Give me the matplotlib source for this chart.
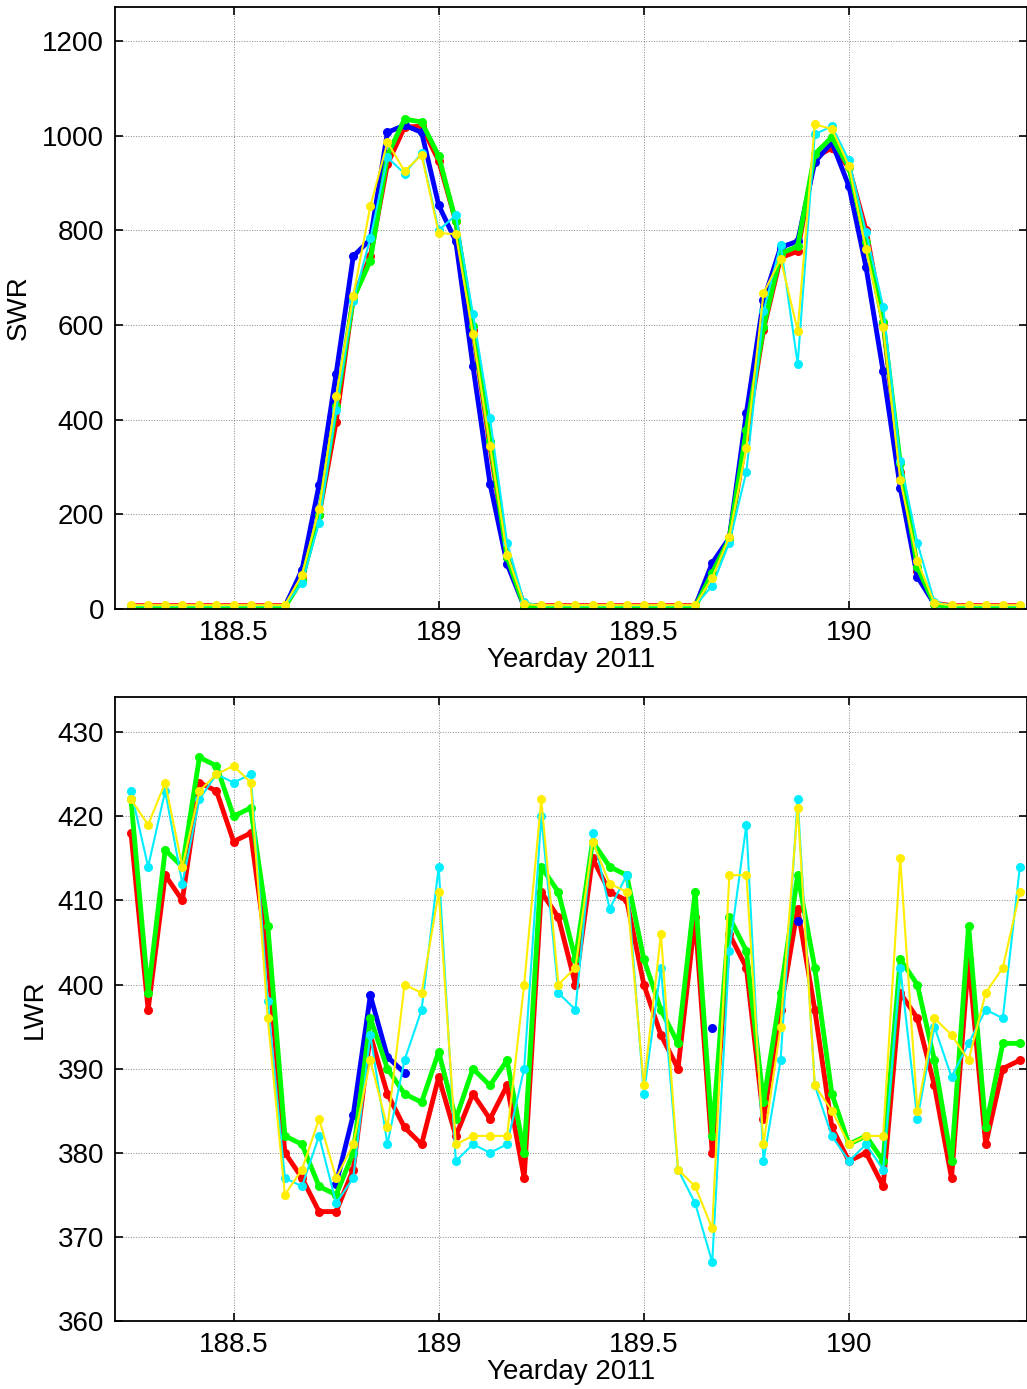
import numpy as np
import matplotlib
matplotlib.use('Agg')
from matplotlib import pyplot as plt

plt.rcParams['font.family'] = ['Liberation Sans', 'DejaVu Sans']

# hourly samples, yearday 188.25 .. 190.4167
yearday = 188.25 + np.arange(53) / 24.0
nan = np.nan

# ---- shortwave radiation ----
swr_red = [7, 7, 7, 7, 7, 7, 7, 7, 7, 7,
           65, 199, 396, 658, 745, 940, 1018, 1020, 947, 819, 590, 343, 110,
           8, 7, 7, 7, 7, 7, 7, 7, 7, 7, 7,
           76, 150, 364, 590, 742, 756, 954, 974, 933, 800, 605, 290, 80, 12,
           7, 7, 7, 7, 7]
swr_blue = [5, 5, 5, 5, 5, 5, 5, 5, 5, 5,
            82, 262, 497, 745, 781, 1007, 1022, 1007, 853, 777, 514, 265, 95,
            5, 5, 5, 5, 5, 5, 5, 5, 5, 5, 5,
            97, 150, 414, 652, 764, 777, 944, 986, 893, 722, 502, 256, 68, 10,
            5, 5, 5, 5, 5]
swr_green = [4, 4, 4, 4, 4, 4, 4, 4, 4, 4,
             62, 199, 428, 655, 736, 958, 1035, 1029, 957, 819, 597, 355, 110,
             5, 4, 4, 4, 4, 4, 4, 4, 4, 4, 4,
             76, 148, 379, 595, 751, 766, 961, 997, 933, 775, 607, 309, 89, 10,
             4, 4, 4, 4, 4]
swr_cyan = [7, 7, 7, 7, 7, 7, 7, 7, 7, 7,
            55, 182, 421, 650, 783, 954, 920, 963, 800, 832, 624, 404, 140,
            14, 7, 7, 7, 7, 7, 7, 7, 7, 7, 7,
            49, 140, 290, 629, 770, 518, 1003, 1020, 948, 796, 639, 313, 140, 15,
            7, 7, 7, 7, 7]
swr_yellow = [8, 8, 8, 8, 8, 8, 8, 8, 8, 8,
              72, 211, 449, 661, 851, 986, 925, 959, 794, 792, 581, 345, 115,
              10, 8, 8, 8, 8, 8, 8, 8, 8, 8, 8,
              66, 152, 341, 667, 740, 588, 1024, 1014, 936, 760, 595, 273, 102, 12,
              8, 8, 8, 8, 8]

# ---- longwave radiation ----
lwr_red = [418, 397, 413, 410, 424, 423, 417, 418, 403, 380,
           377, 373, 373, 378, 394, 387, 383, 381, 389, 382,
           387, 384, 388, 377, 411, 408, 400, 415, 411, 410,
           400, 394, 390, 408, 380, 406, 402, 384, 397, 409,
           397, 383, 379, 380, 376, 399, 396, 388, 377, 403,
           381, 390, 391]
lwr_blue = [nan, nan, nan, nan, nan, nan, nan, nan, nan, nan,
            nan, nan, 376.3, 384.5, 398.7, 391.4, 389.5, nan, nan, nan,
            nan, nan, nan, nan, nan, nan, nan, nan, nan, nan,
            nan, nan, nan, nan, 394.8, nan, nan, nan, nan, 407.5,
            nan, nan, nan, nan, nan, nan, nan, nan, nan, nan,
            nan, nan, nan]
lwr_green = [422, 399, 416, 414, 427, 426, 420, 421, 407, 382,
             381, 376, 375, 380, 396, 390, 387, 386, 392, 384,
             390, 388, 391, 380, 414, 411, 403, 417, 414, 413,
             403, 397, 393, 411, 382, 408, 404, 386, 399, 413,
             402, 387, 381, 382, 379, 403, 400, 391, 379, 407,
             383, 393, 393]
lwr_cyan = [423, 414, 423, 412, 422, 425, 424, 425, 398, 377,
            376, 382, 374, 377, 394, 381, 391, 397, 414, 379,
            381, 380, 381, 390, 420, 399, 397, 418, 409, 413,
            387, 402, 378, 374, 367, 404, 419, 379, 391, 422,
            388, 382, 379, 381, 378, 402, 384, 395, 389, 393,
            397, 396, 414]
lwr_yellow = [422, 419, 424, 414, 423, 425, 426, 424, 396, 375,
              378, 384, 377, 381, 391, 383, 400, 399, 411, 381,
              382, 382, 382, 400, 422, 400, 402, 417, 412, 411,
              388, 406, 378, 376, 371, 413, 413, 381, 395, 421,
              388, 385, 381, 382, 382, 415, 385, 396, 394, 391,
              399, 402, 411]

colors = ['#ff0000', '#0000ff', '#00ff00', '#00eeff', '#ffee00']
widths = [3.5, 3.5, 3.5, 1.5, 1.5]
msizes = [6.5, 6.5, 6.5, 6.5, 6.5]


def Draw(ax, series):
    for s, c, w, m in zip(series, colors, widths, msizes):
        ax.plot(yearday, s, '-', color=c, linewidth=w, marker='o',
                markersize=m, markeredgewidth=0)
    ax.set_xlim(188.211, 190.434)
    ax.set_xticks([188.5, 189, 189.5, 190])
    ax.set_xticklabels(['188.5', '189', '189.5', '190'])
    ax.grid(True, linestyle=':', color='#888888', linewidth=0.7)
    ax.tick_params(direction='in', length=6, width=1.2, labelsize=20,
                   top=True, right=True, pad=8)
    for sp in ax.spines.values():
        sp.set_linewidth(1.3)
    ax.set_xlabel('Yearday 2011', fontsize=20, labelpad=1)


fig = plt.figure(figsize=(10.27, 13.89), dpi=100)

ax1 = fig.add_axes([0.112, 0.5616, 0.888, 0.4334])
Draw(ax1, [swr_red, swr_blue, swr_green, swr_cyan, swr_yellow])
ax1.set_ylim(0, 1272)
ax1.set_yticks(np.arange(0, 1201, 200))
ax1.set_ylabel('SWR', fontsize=20, labelpad=7)

ax2 = fig.add_axes([0.112, 0.0490, 0.888, 0.4493])
Draw(ax2, [lwr_red, lwr_blue, lwr_green, lwr_cyan, lwr_yellow])
ax2.set_ylim(360, 434.2)
ax2.set_yticks(np.arange(360, 431, 10))
ax2.set_ylabel('LWR', fontsize=20, labelpad=7)

fig.savefig('out.png', dpi=100)
